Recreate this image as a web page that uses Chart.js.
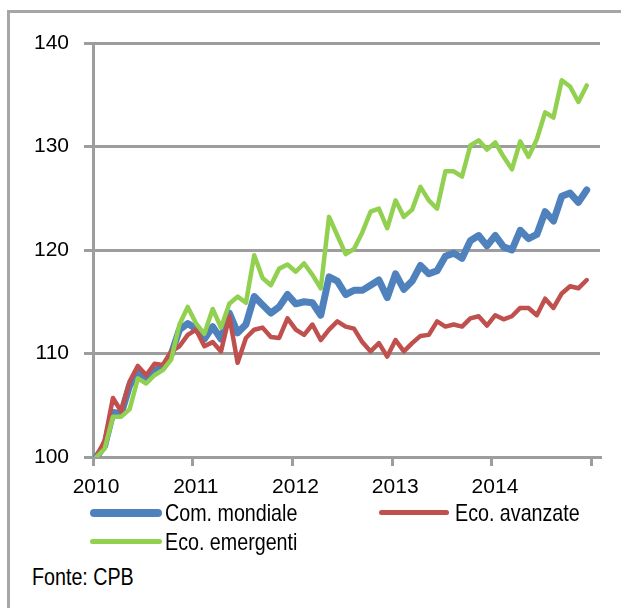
<!DOCTYPE html>
<html>
<head>
<meta charset="utf-8">
<script src="https://cdn.jsdelivr.net/npm/chart.js@4.4.1/dist/chart.umd.min.js"></script>
<style>
  html, body { margin: 0; padding: 0; background: #fff; }
  body { width: 621px; height: 608px; position: relative; overflow: hidden;
         font-family: 'Liberation Sans', Arial, sans-serif; }
  .frame { position: absolute; left: 7px; top: 10px; right: -10px; bottom: -10px;
           border-top: 3px solid #a6a6a6; border-left: 3px solid #a6a6a6; }
  #chart { position: absolute; left: 0; top: 0; }
  /* source text is tall and narrow, so squeeze it a little */
  .leg { position: absolute; font-size: 24px; color: #000; line-height: 26px; white-space: nowrap;
         transform: scaleX(0.82); transform-origin: 0 50%; }
  .swatch { position: absolute; border-radius: 4px; }
</style>
</head>
<body>
<div class="frame"></div>
<canvas id="chart" width="621" height="505"></canvas>

<div class="swatch" style="left:90px;top:509px;width:72px;height:8px;background:#4f81bd"></div>
<div class="leg" style="left:165px;top:500px">Com. mondiale</div>
<div class="swatch" style="left:379px;top:510px;width:70px;height:5px;background:#c0504d"></div>
<div class="leg" style="left:455px;top:500px">Eco. avanzate</div>
<div class="swatch" style="left:90px;top:539px;width:72px;height:5px;background:#92d050"></div>
<div class="leg" style="left:165px;top:529px">Eco. emergenti</div>
<div class="leg" style="left:32px;top:564px">Fonte: CPB</div>

<script>
const YEARS = ['2010', '2011', '2012', '2013', '2014', ''];

// monthly index, Jan 2010 = 100
const mondiale = [
  100.0, 101.1, 104.3, 104.2, 106.9, 108.2, 107.5, 108.4, 108.6, 109.9,
  112.3, 112.9, 112.4, 111.4, 112.6, 111.4, 113.9, 112.0, 112.8, 115.5,
  114.7, 113.9, 114.5, 115.7, 114.8, 115.0, 114.9, 113.7, 117.4, 117.0,
  115.7, 116.1, 116.1, 116.6, 117.1, 115.4, 117.7, 116.2, 117.0, 118.5,
  117.7, 118.0, 119.4, 119.7, 119.2, 120.9, 121.4, 120.4, 121.4, 120.3,
  120.0, 121.9, 121.1, 121.5, 123.7, 122.8, 125.2, 125.5, 124.6, 125.8,
];
const avanzate = [
  100.0, 101.6, 105.7, 104.4, 107.3, 108.8, 107.9, 109.0, 108.9, 110.2,
  110.7, 111.8, 112.3, 110.7, 111.1, 110.2, 113.6, 109.1, 111.5, 112.3,
  112.5, 111.6, 111.5, 113.4, 112.3, 111.8, 112.8, 111.3, 112.3, 113.1,
  112.6, 112.4, 111.1, 110.2, 111.0, 109.7, 111.3, 110.2, 111.0, 111.7,
  111.8, 113.1, 112.6, 112.8, 112.6, 113.4, 113.6, 112.7, 113.7, 113.3,
  113.6, 114.4, 114.4, 113.7, 115.3, 114.4, 115.8, 116.5, 116.3, 117.1,
];
const emergenti = [
  100.0, 100.8, 103.9, 103.9, 104.6, 107.6, 107.1, 107.9, 108.4, 109.4,
  112.8, 114.5, 112.9, 111.9, 114.3, 112.5, 114.8, 115.5, 114.9, 119.5,
  117.3, 116.6, 118.2, 118.6, 117.9, 118.7, 117.6, 116.3, 123.2, 121.4,
  119.6, 120.1, 121.7, 123.7, 124.0, 122.1, 124.8, 123.2, 123.9, 126.1,
  124.8, 124.0, 127.6, 127.6, 127.1, 130.1, 130.6, 129.7, 130.4, 129.0,
  127.8, 130.5, 129.0, 130.7, 133.3, 132.8, 136.4, 135.8, 134.3, 135.9,
];

const FONT = { family: "'Liberation Sans', Arial, sans-serif", size: 21 };
const GRID = '#9d9d9d';
const MONTH_POS = 0.4; // points sit a little after the year tick

const toXY = arr => arr.map((v, i) => ({ x: i + MONTH_POS, y: v }));

const line = (label, data, color, width) => ({
  label,
  data: toXY(data),
  borderColor: color,
  borderWidth: width,
  pointRadius: 0,
  tension: 0,
  fill: false,
  borderJoinStyle: 'round',
  borderCapStyle: 'round',
});

new Chart(document.getElementById('chart'), {
  type: 'line',
  data: {
    datasets: [
      line('Eco. emergenti', emergenti, '#92d050', 4.5),
      line('Eco. avanzate',  avanzate,  '#c0504d', 4.5),
      line('Com. mondiale',  mondiale,  '#4f81bd', 7),
    ],
  },
  options: {
    responsive: false,
    devicePixelRatio: 1,
    animation: false,
    layout: { padding: { left: 0, right: 21, top: 43, bottom: 0 } },
    plugins: { legend: { display: false }, tooltip: { enabled: false } },
    scales: {
      x: {
        type: 'linear',
        min: 0,
        max: 61,
        afterFit: s => { s.height = 48; },
        afterBuildTicks: s => { s.ticks = YEARS.map((_, k) => ({ value: k * 12 })); },
        grid: { drawOnChartArea: false, color: GRID, lineWidth: 3, tickLength: 9 },
        border: { display: true, color: GRID, width: 3 },
        ticks: {
          color: '#000',
          font: FONT,
          padding: 9,
          labelOffset: 3,
          maxRotation: 0,
          autoSkip: false,
          callback: v => YEARS[Math.round(v / 12)],
        },
      },
      y: {
        min: 100,
        max: 140,
        afterFit: s => { s.width = 93; },
        grid: { color: GRID, lineWidth: 3, tickLength: 9 },
        border: { display: true, color: GRID, width: 3 },
        ticks: { stepSize: 10, color: '#000', font: FONT, padding: 15 },
      },
    },
  },
});
</script>
</body>
</html>
